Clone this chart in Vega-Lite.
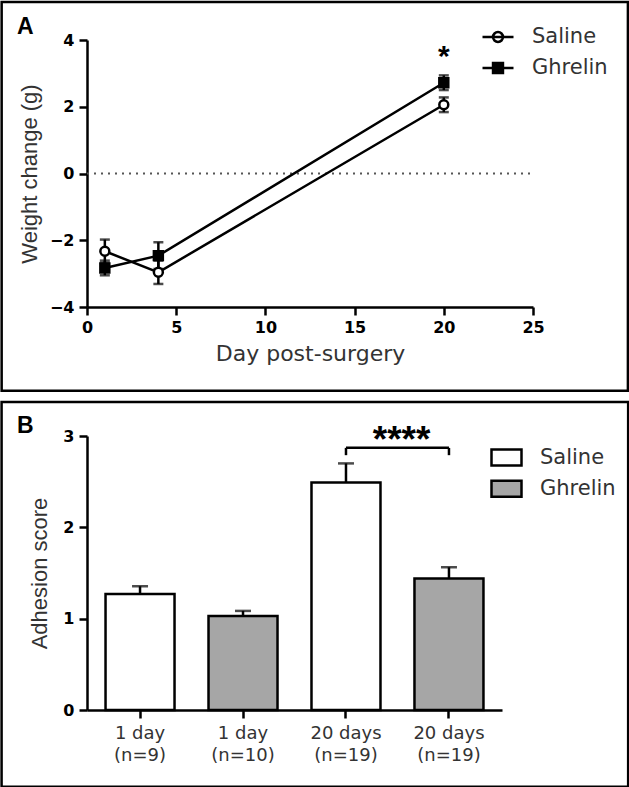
{
  "$schema": "https://vega.github.io/schema/vega-lite/v6.json",
  "padding": 0,
  "background": "white",
  "spacing": 7,
  "datasets": {
    "weight": [
      {"treatment": "Saline", "day": 1, "mean": -2.33, "sem": 0.35},
      {"treatment": "Saline", "day": 4, "mean": -2.96, "sem": 0.35},
      {"treatment": "Saline", "day": 20, "mean": 2.06, "sem": 0.22},
      {"treatment": "Ghrelin", "day": 1, "mean": -2.83, "sem": 0.22},
      {"treatment": "Ghrelin", "day": 4, "mean": -2.46, "sem": 0.4},
      {"treatment": "Ghrelin", "day": 20, "mean": 2.72, "sem": 0.22}
    ],
    "adhesion": [
      {"bar": "Saline, 1 day (n=9)", "treatment": "Saline", "score": 1.27, "sem": 0.085},
      {"bar": "Ghrelin, 1 day (n=10)", "treatment": "Ghrelin", "score": 1.03, "sem": 0.055},
      {"bar": "Saline, 20 days (n=19)", "treatment": "Saline", "score": 2.49, "sem": 0.21},
      {"bar": "Ghrelin, 20 days (n=19)", "treatment": "Ghrelin", "score": 1.44, "sem": 0.123}
    ]
  },
  "vconcat": [
    {
      "width": 446,
      "height": 267,
      "layer": [
        {
          "data": {"values": [{"ref": 0}]},
          "mark": {"type": "rule", "strokeDash": [2, 5], "strokeWidth": 2, "color": "#555"},
          "encoding": {
            "x": {"datum": 0, "type": "quantitative", "scale": {"domain": [0, 25], "nice": false, "zero": false}, "title": "Day post-surgery"},
            "x2": {"datum": 25},
            "y": {"field": "ref", "type": "quantitative", "scale": {"domain": [-4, 4], "nice": false, "zero": false}, "title": "Weight change (g)"}
          }
        },
        {
          "data": {"name": "weight"},
          "mark": {"type": "line", "color": "black", "strokeWidth": 2.5},
          "encoding": {
            "x": {"field": "day", "type": "quantitative", "scale": {"domain": [0, 25], "nice": false, "zero": false}, "title": "Day post-surgery",
                  "axis": {"values": [0, 5, 10, 15, 20, 25], "titlePadding": 8, "labelPadding": 4, "titleFont": "DejaVu Sans", "titleFontSize": 22}},
            "y": {"field": "mean", "type": "quantitative", "scale": {"domain": [-4, 4], "nice": false, "zero": false}, "title": "Weight change (g)",
                  "axis": {"values": [-4, -2, 0, 2, 4], "titlePadding": 8, "labelPadding": 5}},
            "detail": {"field": "treatment"}
          }
        },
        {
          "data": {"name": "weight"},
          "mark": {"type": "errorbar", "ticks": true, "size": 10, "thickness": 2.5, "color": "black"},
          "encoding": {
            "x": {"field": "day", "type": "quantitative", "scale": {"domain": [0, 25], "nice": false, "zero": false}, "title": "Day post-surgery"},
            "y": {"field": "mean", "type": "quantitative", "scale": {"domain": [-4, 4], "nice": false, "zero": false}, "title": "Weight change (g)"},
            "yError": {"field": "sem"}
          }
        },
        {
          "data": {"name": "weight"},
          "mark": {"type": "point", "stroke": "black", "strokeWidth": 2.5, "opacity": 1, "size": 80},
          "encoding": {
            "x": {"field": "day", "type": "quantitative", "scale": {"domain": [0, 25], "nice": false, "zero": false}, "title": "Day post-surgery"},
            "y": {"field": "mean", "type": "quantitative", "scale": {"domain": [-4, 4], "nice": false, "zero": false}, "title": "Weight change (g)"},
            "shape": {"condition": {"test": "datum.treatment === 'Saline'", "value": "circle"}, "value": "square"},
            "fill": {"field": "treatment", "type": "nominal", "scale": {"domain": ["Saline", "Ghrelin"], "range": ["white", "black"]},
              "legend": {
                "orient": "none", "legendX": 394, "legendY": -20, "title": null, "values": ["Saline"],
                "symbolType": "M-1,0H1M0.32,0A0.32,0.32 0 1,1 -0.32,0A0.32,0.32 0 1,1 0.32,0Z",
                "symbolSize": 961, "rowPadding": 0, "labelOffset": 17,
                "symbolStrokeColor": "black", "symbolStrokeWidth": 2.5
              }},
            "stroke": {"field": "treatment", "type": "nominal", "scale": {"domain": ["Ghrelin", "Saline"], "range": ["black", "black"]},
              "legend": {
                "orient": "none", "legendX": 394, "legendY": 11, "title": null, "values": ["Ghrelin"],
                "symbolType": "M-1,0H1M-0.32,-0.32H0.32V0.32H-0.32Z",
                "symbolSize": 961, "rowPadding": 0, "labelOffset": 17,
                "symbolFillColor": "black", "symbolStrokeColor": "black", "symbolStrokeWidth": 2.5
              }}
          }
        },
        {
          "data": {"values": [{"day": 20, "y": 3.48, "label": "*"}]},
          "mark": {"type": "text", "fontSize": 30, "fontWeight": "bold", "color": "black", "align": "center", "baseline": "middle"},
          "encoding": {
            "x": {"field": "day", "type": "quantitative", "scale": {"domain": [0, 25], "nice": false, "zero": false}, "title": "Day post-surgery"},
            "y": {"field": "y", "type": "quantitative", "scale": {"domain": [-4, 4], "nice": false, "zero": false}, "title": "Weight change (g)"},
            "text": {"field": "label"}
          }
        },
        {
          "data": {"values": [{"panel": "A"}]},
          "mark": {"type": "rect", "fill": "transparent", "stroke": "black", "strokeWidth": 2.5},
          "encoding": {
            "x": {"datum": -4.784, "type": "quantitative", "scale": {"domain": [0, 25], "nice": false, "zero": false}, "title": "Day post-surgery"},
            "x2": {"datum": 30.32},
            "y": {"datum": 5.141, "type": "quantitative", "scale": {"domain": [-4, 4], "nice": false, "zero": false}, "title": "Weight change (g)"},
            "y2": {"datum": -6.51}
          }
        },
        {
          "data": {"values": [{"x": -3.918, "y": 4.18, "label": "A"}]},
          "mark": {"type": "text", "fontSize": 23, "fontWeight": "bold", "color": "black", "align": "left", "baseline": "alphabetic"},
          "encoding": {
            "x": {"field": "x", "type": "quantitative", "scale": {"domain": [0, 25], "nice": false, "zero": false}, "title": "Day post-surgery"},
            "y": {"field": "y", "type": "quantitative", "scale": {"domain": [-4, 4], "nice": false, "zero": false}, "title": "Weight change (g)"},
            "text": {"field": "label"}
          }
        }
      ]
    },
    {
      "width": 415,
      "height": 274,
      "layer": [
        {
          "layer": [
            {
              "data": {"name": "adhesion"},
              "mark": {"type": "errorbar", "ticks": true, "size": 16, "thickness": 2.5, "color": "black"},
              "encoding": {
                "x": {"field": "bar", "type": "nominal", "scale": {"domain": ["Saline, 1 day (n=9)", "Ghrelin, 1 day (n=10)", "Saline, 20 days (n=19)", "Ghrelin, 20 days (n=19)"], "paddingInner": 0.33, "paddingOuter": 0.18}, "title": null},
                "y": {"field": "score", "type": "quantitative", "scale": {"domain": [0, 3], "nice": false}, "title": "Adhesion score"},
                "yError": {"field": "sem"}
              }
            },
            {
              "data": {"name": "adhesion"},
              "mark": {"type": "bar", "stroke": "black", "strokeWidth": 2.5, "opacity": 1},
              "encoding": {
                "x": {"field": "bar", "type": "nominal", "scale": {"domain": ["Saline, 1 day (n=9)", "Ghrelin, 1 day (n=10)", "Saline, 20 days (n=19)", "Ghrelin, 20 days (n=19)"], "paddingInner": 0.33, "paddingOuter": 0.18}, "title": null,
                  "axis": {"labelAngle": 0, "labelAlign": "center", "labelBaseline": "top", "labelFontWeight": "normal", "labelFontSize": 18, "labelColor": "#333", "labelLineHeight": 22, "labelPadding": 6,
                    "labelExpr": "[slice(datum.label, indexof(datum.label, ', ') + 2, indexof(datum.label, ' (')), slice(datum.label, indexof(datum.label, ' (') + 1)]"}},
                "y": {"field": "score", "type": "quantitative", "scale": {"domain": [0, 3], "nice": false}, "title": "Adhesion score",
                  "axis": {"values": [0, 1, 2, 3], "format": "d", "titlePadding": 11, "labelPadding": 5}},
                "fill": {"field": "treatment", "type": "nominal", "scale": {"domain": ["Saline", "Ghrelin"], "range": ["white", "#a6a6a6"]},
                  "legend": {
                    "orient": "none", "legendX": 403, "legendY": 5, "title": null,
                    "symbolType": "M-1,-0.53H1V0.53H-1Z", "symbolSize": 900, "rowPadding": 1.3, "labelOffset": 17,
                    "symbolStrokeColor": "black", "symbolStrokeWidth": 2.5
                  }}
              }
            },
            {
              "data": {"values": [{"from": "Saline, 20 days (n=19)", "to": "Ghrelin, 20 days (n=19)", "top": 2.87, "bottom": 2.79}]},
              "mark": {"type": "rule", "color": "black", "strokeWidth": 2.5},
              "encoding": {
                "x": {"field": "from", "type": "nominal", "bandPosition": 0.5, "scale": {"domain": ["Saline, 1 day (n=9)", "Ghrelin, 1 day (n=10)", "Saline, 20 days (n=19)", "Ghrelin, 20 days (n=19)"], "paddingInner": 0.33, "paddingOuter": 0.18}, "title": null},
                "x2": {"field": "to", "bandPosition": 0.5},
                "y": {"field": "top", "type": "quantitative", "scale": {"domain": [0, 3], "nice": false}, "title": "Adhesion score"}
              }
            },
            {
              "data": {"values": [{"from": "Saline, 20 days (n=19)", "to": "Ghrelin, 20 days (n=19)", "top": 2.87, "bottom": 2.79}]},
              "mark": {"type": "rule", "color": "black", "strokeWidth": 2.5},
              "encoding": {
                "x": {"field": "from", "type": "nominal", "bandPosition": 0.5, "scale": {"domain": ["Saline, 1 day (n=9)", "Ghrelin, 1 day (n=10)", "Saline, 20 days (n=19)", "Ghrelin, 20 days (n=19)"], "paddingInner": 0.33, "paddingOuter": 0.18}, "title": null},
                "y": {"field": "bottom", "type": "quantitative", "scale": {"domain": [0, 3], "nice": false}, "title": "Adhesion score"},
                "y2": {"field": "top"}
              }
            },
            {
              "data": {"values": [{"from": "Saline, 20 days (n=19)", "to": "Ghrelin, 20 days (n=19)", "top": 2.87, "bottom": 2.79}]},
              "mark": {"type": "rule", "color": "black", "strokeWidth": 2.5},
              "encoding": {
                "x": {"field": "to", "type": "nominal", "bandPosition": 0.5, "scale": {"domain": ["Saline, 1 day (n=9)", "Ghrelin, 1 day (n=10)", "Saline, 20 days (n=19)", "Ghrelin, 20 days (n=19)"], "paddingInner": 0.33, "paddingOuter": 0.18}, "title": null},
                "y": {"field": "bottom", "type": "quantitative", "scale": {"domain": [0, 3], "nice": false}, "title": "Adhesion score"},
                "y2": {"field": "top"}
              }
            }
          ]
        },
        {
          "layer": [
            {
              "data": {"values": [{"panel": "B"}]},
              "mark": {"type": "rect", "fill": "transparent", "stroke": "black", "strokeWidth": 2.5},
              "encoding": {
                "x": {"datum": -0.2058, "type": "quantitative", "scale": {"domain": [0, 1], "nice": false, "zero": false}, "axis": null},
                "x2": {"datum": 1.304},
                "y": {"datum": 3.373, "type": "quantitative", "scale": {"domain": [0, 3], "nice": false}, "title": "Adhesion score"},
                "y2": {"datum": -0.84}
              }
            },
            {
              "data": {"values": [{"x": 0.758, "y": 2.944, "label": "****"}]},
              "mark": {"type": "text", "fontSize": 37, "fontWeight": "bold", "color": "black", "align": "center", "baseline": "middle"},
              "encoding": {
                "x": {"field": "x", "type": "quantitative", "scale": {"domain": [0, 1], "nice": false, "zero": false}, "axis": null},
                "y": {"field": "y", "type": "quantitative", "scale": {"domain": [0, 3], "nice": false}, "title": "Adhesion score"},
                "text": {"field": "label"}
              }
            },
            {
              "data": {"values": [{"x": -0.1685, "y": 3.036, "label": "B"}]},
              "mark": {"type": "text", "fontSize": 23, "fontWeight": "bold", "color": "black", "align": "left", "baseline": "alphabetic"},
              "encoding": {
                "x": {"field": "x", "type": "quantitative", "scale": {"domain": [0, 1], "nice": false, "zero": false}, "axis": null},
                "y": {"field": "y", "type": "quantitative", "scale": {"domain": [0, 3], "nice": false}, "title": "Adhesion score"},
                "text": {"field": "label"}
              }
            }
          ]
        }
      ],
      "resolve": {"scale": {"x": "independent"}, "axis": {"x": "independent"}}
    }
  ],
  "resolve": {
    "scale": {"x": "independent", "y": "independent", "fill": "independent", "stroke": "independent"},
    "legend": {"fill": "independent", "stroke": "independent"}
  },
  "config": {
    "font": "Liberation Sans",
    "view": {"stroke": null},
    "axis": {
      "grid": false,
      "domainColor": "black", "domainWidth": 2.5,
      "tickColor": "black", "tickWidth": 2.5, "tickSize": 8,
      "labelFont": "DejaVu Sans", "labelFontSize": 16, "labelFontWeight": "bold", "labelColor": "black",
      "labelFlush": false, "labelOverlap": false,
      "titleFont": "Liberation Sans", "titleFontSize": 22, "titleFontWeight": "normal", "titleColor": "#333"
    },
    "legend": {
      "labelFont": "DejaVu Sans", "labelFontSize": 21, "labelColor": "#333", "padding": 0
    }
  }
}
